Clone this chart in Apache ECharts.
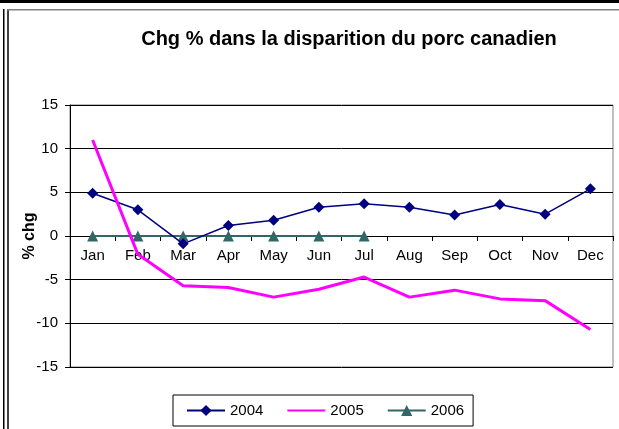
<!DOCTYPE html>
<html>
<head>
<meta charset="utf-8">
<script src="https://cdn.jsdelivr.net/npm/echarts@6/dist/echarts.min.js"></script>
<style>
html,body{margin:0;padding:0;background:#fff;}
#chart{width:619px;height:429px;}
</style>
</head>
<body>
<div id="chart"></div>
<script>
var categories = ['Jan','Feb','Mar','Apr','May','Jun','Jul','Aug','Sep','Oct','Nov','Dec'];
var s2004 = [4.9, 3.0, -0.9, 1.2, 1.8, 3.3, 3.7, 3.3, 2.4, 3.6, 2.5, 5.4];
var s2005 = [11.0, -2.1, -5.7, -5.9, -7.0, -6.1, -4.7, -7.0, -6.2, -7.2, -7.4, -10.7];
var s2006 = [0, 0, 0, 0, 0, 0, 0];
var seriesNames = ['2004','2005','2006'];
var titleText = 'Chg % dans la disparition du porc canadien';
var yName = '% chg';

var chart = echarts.init(document.getElementById('chart'), null, {renderer:'canvas'});
var font = 'Arial, "Liberation Sans", sans-serif';
chart.setOption({
  animation:false,
  backgroundColor:'#fff',
  title:{
    text:titleText, left:344, top:24, textAlign:'center',
    textStyle:{fontFamily:font, fontSize:20, fontWeight:'bold', color:'#000'}
  },
  legend:{
    data:[
      {name:seriesNames[0]},
      {name:seriesNames[1], itemStyle:{opacity:0}},
      {name:seriesNames[2]}
    ],
    left:173, top:395,
    itemWidth:38, itemHeight:14, itemGap:23,
    padding:[8,9,8,13],
    borderColor:'#000', borderWidth:1,
    textStyle:{fontFamily:font, fontSize:15, color:'#000'}
  },
  grid:{left:70, right:6, top:105, bottom:62, containLabel:false,
        show:true, borderColor:'#808080', borderWidth:1},
  xAxis:{
    type:'category', data:categories, boundaryGap:true,
    offset:-131,
    axisLine:{onZero:false, lineStyle:{color:'#000', width:1}},
    axisTick:{show:true, inside:false, length:5, lineStyle:{color:'#000'}},
    axisLabel:{fontFamily:font, fontSize:15, color:'#000', margin:12},
    splitLine:{show:false}
  },
  yAxis:{
    type:'value', min:-15, max:15, interval:5,
    name:yName, nameLocation:'middle', nameGap:32, nameRotate:90,
    nameMoveOverlap:false,
    nameTextStyle:{fontFamily:font, fontSize:16, fontWeight:'bold', color:'#000'},
    axisLine:{show:true, lineStyle:{color:'#000'}},
    axisTick:{show:true, length:5, lineStyle:{color:'#000'}},
    axisLabel:{fontFamily:font, fontSize:15, color:'#000', margin:12},
    splitLine:{show:true, lineStyle:{color:'#000', width:1}}
  },
  series:[
    {name:seriesNames[0], type:'line', data:s2004, symbol:'diamond', symbolSize:11,
     lineStyle:{color:'#000080', width:1.5}, itemStyle:{color:'#000080'}, z:3},
    {name:seriesNames[1], type:'line', data:s2005, symbol:'none', showSymbol:false,
     lineStyle:{color:'#ff00ff', width:3}, itemStyle:{color:'#ff00ff'}, z:4},
    {name:seriesNames[2], type:'line', data:s2006, symbol:'triangle', symbolSize:11,
     lineStyle:{color:'#336666', width:2}, itemStyle:{color:'#336666'}, z:2}
  ],
  graphic:[
    {type:'rect', shape:{x:0,y:0,width:619,height:3}, style:{fill:'#000'}, silent:true},
    {type:'rect', shape:{x:3,y:9,width:1.5,height:420}, style:{fill:'#000'}, silent:true},
    {type:'rect', shape:{x:7,y:9,width:2,height:420}, style:{fill:'#404040'}, silent:true},
    {type:'rect', shape:{x:7,y:9,width:612,height:1.5}, style:{fill:'#808080'}, silent:true}
  ]
});
</script>
</body>
</html>
